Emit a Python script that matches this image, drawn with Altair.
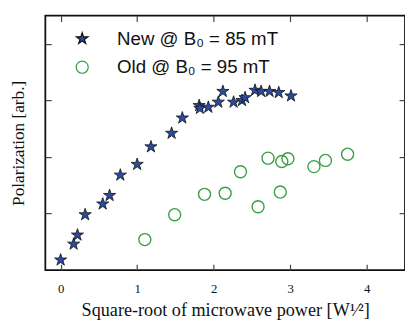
import altair as alt
import pandas as pd

new_x = [0.0, 0.17, 0.22, 0.32, 0.55, 0.64, 0.78, 1.0, 1.18, 1.45, 1.59, 1.81, 1.82,
         1.93, 2.06, 2.12, 2.26, 2.37, 2.41, 2.54, 2.62, 2.73, 2.85, 3.01]
new_y = [0.18, 0.46, 0.62, 0.98, 1.17, 1.32, 1.68, 1.87, 2.18, 2.42, 2.69, 2.91, 2.86,
         2.88, 2.97, 3.16, 2.97, 3.0, 3.05, 3.18, 3.16, 3.16, 3.14, 3.08]
old_x = [1.10, 1.49, 1.88, 2.15, 2.35, 2.58, 2.71, 2.87, 2.89, 2.97, 3.31, 3.46, 3.75]
old_y = [0.54, 0.98, 1.34, 1.36, 1.74, 1.12, 1.98, 1.38, 1.92, 1.97, 1.83, 1.94, 2.05]

labels = ["New @ B₀ = 85 mT", "Old @ B₀ = 95 mT"]
x_ticks = [0, 1, 2, 3, 4]
y_ticks = [1, 2, 3, 4]

STAR = ("M0,-1L0.225,-0.309L0.951,-0.309L0.363,0.118L0.588,0.809L0,0.382"
        "L-0.588,0.809L-0.363,0.118L-0.951,-0.309L-0.225,-0.309Z")

df_new = pd.DataFrame({"x": new_x, "y": new_y, "series": labels[0]})
df_old = pd.DataFrame({"x": old_x, "y": old_y, "series": labels[1]})

xscale = alt.Scale(domain=[-0.2, 4.5], nice=False, zero=False)
yscale = alt.Scale(domain=[0, 4.5], nice=False, zero=False)

common_axis = dict(domain=False, grid=False, tickSize=6, offset=-6,
                   tickColor="#444", tickWidth=1.2)

x_bottom = alt.Axis(values=x_ticks, format="d", orient="bottom",
                    title="Square-root of microwave power [W¹⁄²]",
                    labelFont="Liberation Serif", labelFontSize=13, labelPadding=13,
                    labelColor="#111",
                    titleFont="Liberation Serif", titleFontSize=18.5, titleFontWeight="normal",
                    titlePadding=5, titleColor="#111", **common_axis)
y_left = alt.Axis(values=y_ticks, orient="left", labels=False,
                  title="Polarization [arb.]",
                  titleFont="Liberation Serif", titleFontSize=17.5, titleFontWeight="normal",
                  titlePadding=18, titleColor="#111", **common_axis)
x_top = alt.Axis(values=x_ticks, orient="top", labels=False, title=None, **common_axis)
y_right = alt.Axis(values=y_ticks, orient="right", labels=False, title=None, **common_axis)

shape_s = alt.Scale(domain=labels, range=[STAR, "circle"])
fill_s = alt.Scale(domain=labels, range=["#2a4b9e", "transparent"])
stroke_s = alt.Scale(domain=labels, range=["#111111", "#3a9e48"])

legend = alt.Legend(title=None, orient="none", legendX=28, legendY=14,
                    labelFont="Liberation Sans", labelFontSize=19, labelColor="#111",
                    labelLimit=320,
                    symbolSize=150, symbolStrokeWidth=1.2, rowPadding=9,
                    labelOffset=26, padding=0)

def enc(xaxis, yaxis, lg):
    return dict(
        x=alt.X("x:Q", scale=xscale, axis=xaxis),
        y=alt.Y("y:Q", scale=yscale, axis=yaxis),
        shape=alt.Shape("series:N", scale=shape_s, legend=lg),
        fill=alt.Fill("series:N", scale=fill_s, legend=lg),
        stroke=alt.Stroke("series:N", scale=stroke_s, legend=lg),
    )

old_layer = alt.Chart(df_old).mark_point(size=150, strokeWidth=1.4, opacity=1).encode(
    **enc(x_bottom, y_left, legend))
new_layer = alt.Chart(df_new).mark_point(size=170, strokeWidth=0.8, opacity=1).encode(
    **enc(x_top, y_right, legend))

chart = alt.layer(old_layer, new_layer).properties(
    width=366, height=259,
    autosize=alt.AutoSizeParams(type="none"),
    padding={"left": 38, "top": 5, "right": 0, "bottom": 48},
).configure(background="white").configure_view(stroke="#111", strokeWidth=1.8)

chart.save("out.html", embed_options={"renderer": "svg", "actions": False})
